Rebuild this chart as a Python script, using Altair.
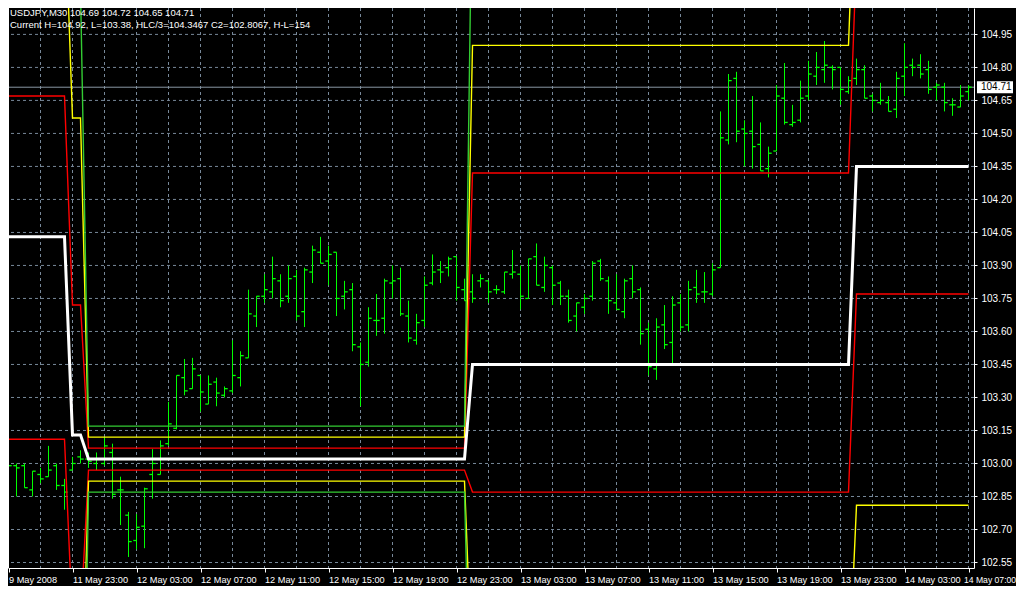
import altair as alt
import pandas as pd

# ---------------- OHLC bars (USDJPY, M30) ----------------
opens = [102.99, 102.99, 102.99, 102.88, 102.95, 102.94, 102.99, 102.90, 102.97, 103.03,
         103.02, 103.00, 103.00, 103.05, 102.88, 102.765, 102.65, 102.715, 102.95, 102.95,
         103.09, 103.16, 103.39, 103.34, 103.40, 103.27, 103.37, 103.31, 103.33, 103.39,
         103.48, 103.67, 103.76, 103.78, 103.83, 103.76, 103.85, 103.69, 103.87, 103.96,
         103.92, 103.96, 103.76, 103.79, 103.53, 103.46, 103.65, 103.66, 103.82, 103.84,
         103.67, 103.56, 103.65, 103.82, 103.88, 103.89, 103.94, 103.79, 103.78, 103.83,
         103.83, 103.79, 103.78, 103.86, 103.86, 103.75, 103.94, 103.80, 103.89, 103.82,
         103.76, 103.67, 103.71, 103.76, 103.92, 103.83, 103.73, 103.69, 103.84, 103.79,
         103.61, 103.43, 103.63, 103.55, 103.73, 103.63, 103.80, 103.78, 103.77, 103.89,
         104.47, 104.75, 104.52, 104.51, 104.45, 104.34, 104.42, 104.66, 104.54, 104.56,
         104.67, 104.76, 104.79, 104.80, 104.80, 104.69, 104.75, 104.79, 104.67, 104.64,
         104.64, 104.61, 104.76, 104.81, 104.81, 104.79, 104.71, 104.71, 104.63, 104.62,
         104.69]
highs = [103.05, 103.00, 103.00, 102.965, 102.98, 103.08, 103.00, 102.93, 103.03, 103.06,
         103.05, 103.05, 103.12, 103.09, 102.94, 102.78, 102.77, 102.89, 103.065, 103.105,
         103.28, 103.40, 103.475, 103.48, 103.40, 103.40, 103.39, 103.35, 103.56, 103.51,
         103.79, 103.76, 103.86, 103.94, 103.86, 103.90, 103.88, 103.89, 103.99, 104.03,
         103.99, 103.96, 103.83, 103.82, 103.55, 103.71, 103.77, 103.84, 103.90, 103.89,
         103.74, 103.68, 103.85, 103.95, 103.92, 103.94, 103.94, 103.84, 103.86, 103.86,
         103.83, 103.81, 103.87, 103.97, 103.90, 103.93, 104.00, 103.94, 103.90, 103.83,
         103.79, 103.73, 103.77, 103.92, 103.93, 103.85, 103.86, 103.84, 103.90, 103.80,
         103.64, 103.66, 103.72, 103.76, 103.77, 103.83, 103.88, 103.87, 103.91, 104.60,
         104.77, 104.78, 104.56, 104.67, 104.55, 104.44, 104.72, 104.82, 104.63, 104.74,
         104.83, 104.87, 104.92, 104.81, 104.80, 104.76, 104.84, 104.81, 104.68, 104.73,
         104.67, 104.78, 104.91, 104.84, 104.86, 104.83, 104.73, 104.73, 104.66, 104.72,
         104.72]
lows = [102.95, 102.85, 102.89, 102.85, 102.91, 102.94, 102.88, 102.79, 102.97, 103.00,
        102.98, 102.97, 102.99, 102.84, 102.72, 102.575, 102.61, 102.615, 102.84, 102.95,
        103.08, 103.155, 103.31, 103.34, 103.235, 103.27, 103.26, 103.30, 103.32, 103.35,
        103.48, 103.62, 103.73, 103.75, 103.71, 103.73, 103.65, 103.62, 103.82, 103.91,
        103.81, 103.67, 103.70, 103.51, 103.26, 103.44, 103.58, 103.59, 103.75, 103.67,
        103.55, 103.54, 103.62, 103.81, 103.82, 103.85, 103.74, 103.74, 103.73, 103.80,
        103.73, 103.77, 103.77, 103.84, 103.70, 103.75, 103.81, 103.78, 103.72, 103.72,
        103.64, 103.60, 103.68, 103.74, 103.83, 103.68, 103.70, 103.66, 103.75, 103.54,
        103.40, 103.38, 103.52, 103.45, 103.60, 103.60, 103.73, 103.73, 103.76, 103.89,
        104.45, 104.46, 104.35, 104.34, 104.33, 104.30, 104.42, 104.54, 104.53, 104.55,
        104.65, 104.72, 104.73, 104.70, 104.63, 104.68, 104.72, 104.66, 104.60, 104.63,
        104.60, 104.57, 104.67, 104.76, 104.75, 104.68, 104.65, 104.60, 104.58, 104.62,
        104.65]
closes = [102.99, 102.98, 102.89, 102.965, 102.93, 102.97, 102.90, 102.87, 103.00, 103.02,
          103.01, 103.02, 103.08, 102.86, 102.88, 102.645, 102.71, 102.885, 103.00, 103.08,
          103.18, 103.40, 103.33, 103.43, 103.325, 103.36, 103.32, 103.34, 103.40, 103.49,
          103.68, 103.76, 103.79, 103.84, 103.74, 103.84, 103.67, 103.88, 103.97, 103.91,
          103.95, 103.75, 103.78, 103.54, 103.45, 103.66, 103.65, 103.83, 103.83, 103.68,
          103.57, 103.64, 103.81, 103.87, 103.87, 103.93, 103.80, 103.74, 103.75, 103.84,
          103.78, 103.79, 103.87, 103.87, 103.76, 103.93, 103.81, 103.90, 103.81, 103.76,
          103.65, 103.73, 103.75, 103.91, 103.84, 103.74, 103.70, 103.83, 103.78, 103.59,
          103.44, 103.62, 103.54, 103.72, 103.62, 103.79, 103.77, 103.78, 103.88, 104.48,
          104.74, 104.51, 104.50, 104.44, 104.33, 104.41, 104.67, 104.55, 104.55, 104.66,
          104.77, 104.80, 104.81, 104.79, 104.70, 104.74, 104.79, 104.66, 104.65, 104.65,
          104.60, 104.75, 104.80, 104.80, 104.77, 104.70, 104.72, 104.64, 104.63, 104.67,
          104.71]

# ---------------- daily pivot levels (one value per session) ----------------
seg_start = [0, 8, 10, 58, 106]
pivot_lv = [104.03, 103.13, 103.02, 103.45, 104.35]
r1_lv = [104.67, 103.72, 103.07, 104.32, 105.31]
s1_lv = [103.11, 102.28, 102.97, 102.87, 103.77]
r2_lv = [105.59, 104.57, 103.12, 104.90, 105.89]
s2_lv = [102.47, 101.69, 102.92, 101.99, 102.81]
r3_lv = [106.23, 105.16, 103.17, 105.78, 106.85]
s3_lv = [101.55, 100.84, 102.87, 101.41, 102.23]

x_labels = ["9 May 2008", "11 May 23:00", "12 May 03:00", "12 May 07:00", "12 May 11:00",
            "12 May 15:00", "12 May 19:00", "12 May 23:00", "13 May 03:00", "13 May 07:00",
            "13 May 11:00", "13 May 15:00", "13 May 19:00", "13 May 23:00", "14 May 03:00",
            "14 May 07:00"]
price_ticks = [102.55, 102.70, 102.85, 103.00, 103.15, 103.30, 103.45, 103.60, 103.75,
               103.90, 104.05, 104.20, 104.35, 104.50, 104.65, 104.80, 104.95]
last_price = 104.71
header1 = "USDJPY,M30  104.69 104.72 104.65 104.71"
header2 = "Current H=104.92, L=103.38, HLC/3=104.3467 C2=102.8067, H-L=154"

# ---------------- build tables ----------------
n = len(closes)
bars = pd.DataFrame({"idx": list(range(n)), "open": opens, "high": highs,
                     "low": lows, "close": closes})


def seg_of(i):
    s = 0
    for k, st in enumerate(seg_start):
        if i >= st:
            s = k
    return s


level_sets = {"P": pivot_lv, "R1": r1_lv, "S1": s1_lv, "R2": r2_lv,
              "S2": s2_lv, "R3": r3_lv, "S3": s3_lv}
rows = []
for name, vals in level_sets.items():
    for i in range(n):
        rows.append({"idx": i, "level": name, "value": vals[seg_of(i)]})
levels = pd.DataFrame(rows)

W, H = 966, 560
FONT = "Liberation Sans"
GREEN = "#00ff00"
GRID = "#778899"

xs = alt.Scale(domain=[-0.0625, 120.6875], nice=False, zero=False)
ys = alt.Scale(domain=[102.525, 105.07], nice=False, zero=False)

label_expr = "[" + ",".join("'" + s + "'" for s in x_labels) + "][round(datum.value/8)]"

XAX = alt.Axis(values=list(range(0, 121, 8)), labelExpr=label_expr, labelAlign="left",
               labelColor="white", labelFont=FONT, labelPadding=3,
               labelFontSize={"condition": {"test": "datum.value >= 120", "value": 8.6},
                              "value": 9.2},
               labelOffset={"condition": {"test": "datum.value >= 120", "value": -5},
                            "value": 0},
               tickColor="white", tickSize=4, domainColor="white", grid=False,
               labelOverlap=False, labelBound=False, labelFlush=False, title=None)
YAX = alt.Axis(orient="right", values=price_ticks, format=".2f", labelAlign="left",
               labelColor="white", labelFont=FONT, labelFontSize=10, labelPadding=4,
               tickColor="white", tickSize=3, domainColor="white", grid=False,
               labelOverlap=False, labelBound=False, title=None)

# grid
vgrid = alt.Chart(pd.DataFrame({"g": list(range(0, 121, 4))})).mark_rule(
    color=GRID, strokeDash=[3, 3], strokeWidth=1
).encode(x=alt.X("g:Q", scale=xs, axis=XAX))
hgrid = alt.Chart(pd.DataFrame({"p": price_ticks})).mark_rule(
    color=GRID, strokeDash=[3, 3], strokeWidth=1
).encode(y=alt.Y("p:Q", scale=ys, axis=YAX))

# current price line
cur_line = alt.Chart(pd.DataFrame({"p": [last_price]})).mark_rule(
    color="#8896a4", strokeWidth=1
).encode(x=alt.value(0), x2=alt.value(W), y=alt.Y("p:Q", scale=ys, axis=YAX))

# bars
base = alt.Chart(bars)
hl = base.mark_rule(color=GREEN, strokeWidth=1, clip=True).encode(
    x=alt.X("idx:Q", scale=xs, axis=XAX),
    y=alt.Y("low:Q", scale=ys, axis=YAX),
    y2="high:Q",
)
op = base.transform_calculate(xo="datum.idx - 0.4").mark_rule(
    color=GREEN, strokeWidth=1.3, clip=True
).encode(x=alt.X("xo:Q", scale=xs, axis=XAX), x2="idx:Q",
         y=alt.Y("open:Q", scale=ys, axis=YAX))
cl = base.transform_calculate(xc="datum.idx + 0.4").mark_rule(
    color=GREEN, strokeWidth=1.3, clip=True
).encode(x=alt.X("idx:Q", scale=xs, axis=XAX), x2="xc:Q",
         y=alt.Y("close:Q", scale=ys, axis=YAX))

# pivot level lines
thin = alt.Chart(levels).transform_filter("datum.level != 'P'").mark_line(
    strokeWidth=1.4, clip=True
).encode(
    x=alt.X("idx:Q", scale=xs, axis=XAX),
    y=alt.Y("value:Q", scale=ys, axis=YAX),
    color=alt.Color("level:N", legend=None, scale=alt.Scale(
        domain=["R1", "S1", "R2", "S2", "R3", "S3"],
        range=["#ff0000", "#ff0000", "#ffff00", "#ffff00", "#33cc33", "#33cc33"])),
    detail="level:N",
)
piv = alt.Chart(levels).transform_filter("datum.level == 'P'").mark_line(
    strokeWidth=3, color="white", clip=True
).encode(x=alt.X("idx:Q", scale=xs, axis=XAX), y=alt.Y("value:Q", scale=ys, axis=YAX))

# left frame
left_frame = alt.Chart(pd.DataFrame({"a": [0]})).mark_rule(color="white").encode(
    x=alt.value(0.5), y=alt.value(0), y2=alt.value(H))

# header
h1 = alt.Chart(pd.DataFrame({"t": [header1]})).mark_text(
    align="left", baseline="middle", color="white", font=FONT, fontSize=9.5
).encode(x=alt.value(2), y=alt.value(5), text="t:N")
h2 = alt.Chart(pd.DataFrame({"t": [header2]})).mark_text(
    align="left", baseline="middle", color="white", font=FONT, fontSize=9.5
).encode(x=alt.value(2), y=alt.value(17), text="t:N")

# current price tag on axis
tag_df = pd.DataFrame({"p": [last_price], "t": ["%.2f" % last_price]})
tag_bg = alt.Chart(tag_df).mark_rule(color="white", strokeWidth=12, clip=False).encode(
    x=alt.value(W + 3), x2=alt.value(W + 39), y=alt.Y("p:Q", scale=ys, axis=YAX))
tag_tx = alt.Chart(tag_df).mark_text(
    align="left", baseline="middle", color="black", font=FONT, fontSize=10, clip=False
).encode(x=alt.value(W + 7), y=alt.Y("p:Q", scale=ys, axis=YAX), text="t:N")

chart = alt.layer(
    vgrid, hgrid, cur_line, hl, op, cl, thin, piv, left_frame, h1, h2, tag_bg, tag_tx
).properties(
    width=W, height=H,
    autosize=alt.AutoSizeParams(type="none"),
    padding={"left": 0, "top": 0, "right": 42, "bottom": 18},
).configure(background="#000000").configure_view(stroke=None)

chart.save("out.html", embed_options={"renderer": "svg", "actions": False})
